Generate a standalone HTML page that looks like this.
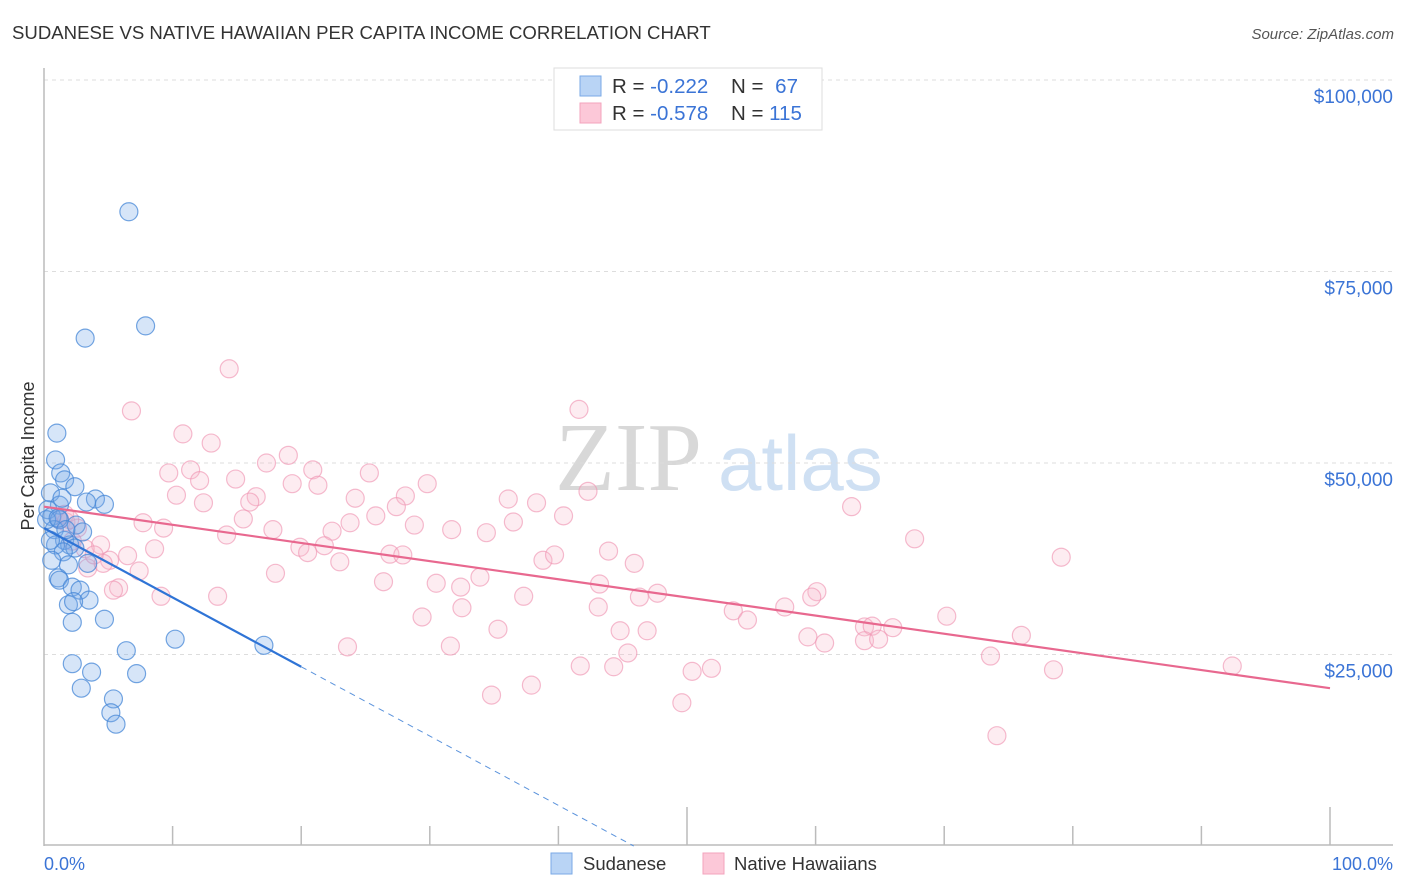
<!DOCTYPE html>
<html><head><meta charset="utf-8"><style>
body{margin:0;background:#fff;font-family:"Liberation Sans",sans-serif;}
svg{display:block}
</style></head><body>
<svg width="1406" height="892" xmlns="http://www.w3.org/2000/svg">
<text x="12" y="39" font-size="18.6" fill="#333">SUDANESE VS NATIVE HAWAIIAN PER CAPITA INCOME CORRELATION CHART</text>
<text x="1394" y="39" font-size="15" fill="#555" font-style="italic" text-anchor="end">Source: ZipAtlas.com</text>
<text x="555" y="490" font-size="98" fill="#d8d8d8" font-family="Liberation Serif">ZIP</text>
<text x="718" y="490" font-size="78" fill="#cfe0f3">atlas</text>
<g id="grid"></g>
<g id="axes"></g>
<text x="34" y="456" font-size="18" fill="#333" text-anchor="middle" transform="rotate(-90 34 456)">Per Capita Income</text>
<text x="44" y="870" font-size="18" fill="#3b74d6">0.0%</text>
<text x="1393" y="870" font-size="18" fill="#3b74d6" text-anchor="end">100.0%</text>
<g id="pink"></g>
<g id="blue"></g>
<g id="lines"></g>
<g>
<rect x="554" y="68" width="268" height="62" fill="#fff" stroke="#ddd"/>
<rect x="580" y="76" width="21" height="20" fill="#b9d4f5" stroke="#7aa9e6"/>
<rect x="580" y="103" width="21" height="20" fill="#fcc8d8" stroke="#f3a3bd"/>
<text x="612" y="93" font-size="20.5" fill="#333">R = <tspan fill="#3b74d6">-0.222</tspan></text>
<text x="731" y="93" font-size="20.5" fill="#333">N = <tspan fill="#3b74d6" dx="6">67</tspan></text>
<text x="612" y="120" font-size="20.5" fill="#333">R = <tspan fill="#3b74d6">-0.578</tspan></text>
<text x="731" y="120" font-size="20.5" fill="#333">N = <tspan fill="#3b74d6">115</tspan></text>
</g>
<g>
<rect x="551" y="853" width="21" height="21" fill="#b9d4f5" stroke="#7aa9e6"/>
<text x="583" y="870" font-size="18.5" fill="#333">Sudanese</text>
<rect x="703" y="853" width="21" height="21" fill="#fcc8d8" stroke="#f3a3bd"/>
<text x="734" y="870" font-size="18.5" fill="#333">Native Hawaiians</text>
</g>
</svg>
<script>
const yTicks=[25000,50000,75000,100000];
const yTickLabels=["$25,000","$50,000","$75,000","$100,000"];
const xTicks=[0,10,20,30,40,50,60,70,80,90,100];
const blueX=[6.6,7.9,3.2,1.0,0.9,1.3,1.6,2.4,0.5,4.0,4.7,3.3,1.2,0.3,0.6,1.2,2.5,3.0,0.8,1.6,2.0,2.4,0.9,1.5,0.6,1.9,3.4,1.1,1.2,2.2,2.8,3.5,1.9,2.3,4.7,2.2,10.2,17.1,6.4,2.2,3.7,7.2,2.9,5.4,5.2,5.6,0.2,0.5,1.1,1.7,1.4];
const blueY=[82.8,67.9,66.3,53.9,50.4,48.7,47.8,46.9,46.1,45.3,44.6,44.9,44.5,43.9,43.0,42.6,41.9,41.0,41.3,39.9,39.3,38.9,39.3,38.4,37.3,36.7,36.9,35.0,34.7,33.8,33.4,32.1,31.5,31.9,29.6,29.2,27.0,26.2,25.5,23.8,22.7,22.5,20.6,19.2,17.4,15.9,42.6,39.9,42.8,41.3,45.4];
const pinkX=[14.4,6.8,41.6,10.8,13.0,9.7,11.4,17.3,19.0,14.9,20.9,25.3,12.1,10.3,12.4,16.5,16.0,19.3,21.3,28.1,29.8,24.2,36.1,38.3,42.3,62.8,7.7,9.3,15.5,23.8,25.8,27.4,28.8,31.7,34.4,36.5,40.4,14.2,17.8,22.4,19.9,21.8,20.5,26.9,27.9,38.8,39.7,43.9,45.9,67.7,79.1,8.6,6.5,5.1,7.4,4.4,3.4,18.0,23.0,26.4,30.5,32.4,33.9,43.2,46.3,47.7,37.3,32.5,43.1,53.6,57.6,54.7,60.1,59.7,29.4,44.8,46.9,35.3,59.4,60.7,63.8,64.4,66.0,63.8,64.9,70.2,76.0,9.1,13.5,23.6,31.6,45.4,41.7,44.3,50.4,51.9,73.6,78.5,92.4,34.8,37.9,49.6,74.1,5.8,5.4,4.6,3.2,2.2,1.2,1.7,2.6,1.6,2.0,3.9];
const pinkY=[62.3,56.8,57.0,53.8,52.6,48.7,49.1,50.0,51.0,47.9,49.1,48.7,47.7,45.8,44.8,45.6,44.9,47.3,47.1,45.7,47.3,45.4,45.3,44.8,46.3,44.3,42.2,41.5,42.7,42.2,43.1,44.3,41.9,41.3,40.9,42.3,43.1,40.6,41.3,41.1,39.0,39.2,38.3,38.1,38.0,37.3,38.0,38.5,36.9,40.1,37.7,38.8,37.9,37.3,35.9,39.3,36.3,35.6,37.1,34.5,34.3,33.8,35.1,34.2,32.5,33.0,32.6,31.1,31.2,30.7,31.2,29.5,33.2,32.5,29.9,28.1,28.1,28.3,27.3,26.5,28.6,28.7,28.5,26.8,27.0,30.0,27.5,32.6,32.6,26.0,26.1,25.2,23.5,23.4,22.8,23.2,24.8,23.0,23.5,19.7,21.0,18.7,14.4,33.7,33.4,36.9,38.8,39.8,42.6,42.3,41.5,43.3,42.6,38.0];
const blueTrend=[41.5,23.4];
const pinkTrend=[44.3,20.6];
const NS="http://www.w3.org/2000/svg";
const X0=44,X1=1330,Y0=846,YK=80;
function sx(p){return X0+(X1-X0)*p/100;}
function sy(v){return Y0-(Y0-YK)*v/100000;}
function mk(tag,attrs,parent){const e=document.createElementNS(NS,tag);for(const k in attrs)e.setAttribute(k,attrs[k]);parent.appendChild(e);return e;}
const grid=document.getElementById('grid'),axes=document.getElementById('axes');
yTicks.forEach((t,i)=>{
  const l=mk('line',{x1:44,x2:1393,y1:sy(t),y2:sy(t),stroke:'#ddd','stroke-dasharray':'4,4'},grid);
  
  
  const tx=mk('text',{x:1393,y:sy(t)+23,'font-size':19,fill:'#3b74d6','text-anchor':'end'},grid);
  tx.textContent=yTickLabels[i];
  
  
});
const ya=mk('line',{x1:44,x2:44,y1:68,y2:846,stroke:'#bbb','stroke-width':1.5},axes);


const xa=mk('line',{x1:44,x2:1393,y1:845,y2:845,stroke:'#bbb','stroke-width':1.5},axes);


xTicks.forEach((t,i)=>{
  if(t===0)return;
  const major=(t%50===0);
  const tk=mk('line',{x1:sx(t),x2:sx(t),y1:major?807:826,y2:845,stroke:'#bbb','stroke-width':1.5},axes);
  
  
});
function dots(xs,ys,g,fill,stroke,name){
  xs.forEach((x,i)=>{
    const c=mk('circle',{cx:sx(x),cy:sy(ys[i]*1000),r:9,fill:fill,stroke:stroke,'stroke-width':1.2},g);
    
    
  });
}
dots(pinkX,pinkY,document.getElementById('pink'),'rgba(248,185,205,0.28)','rgba(240,150,180,0.65)','hawaiian-point');
dots(blueX,blueY,document.getElementById('blue'),'rgba(120,170,232,0.3)','rgba(70,135,215,0.75)','sudanese-point');
const lines=document.getElementById('lines');
const pl=mk('line',{x1:sx(0),y1:sy(pinkTrend[0]*1000),x2:sx(100),y2:sy(pinkTrend[1]*1000),stroke:'#e8688f','stroke-width':2.2},lines);


const slope=(blueTrend[1]-blueTrend[0])/20;
const bl=mk('line',{x1:sx(0),y1:sy(blueTrend[0]*1000),x2:sx(20),y2:sy(blueTrend[1]*1000),stroke:'#2f74d6','stroke-width':2.2},lines);


const xEnd=-blueTrend[0]/slope;
const bd=mk('line',{x1:sx(20),y1:sy(blueTrend[1]*1000),x2:sx(xEnd),y2:sy(0),stroke:'#5b93dc','stroke-width':1,'stroke-dasharray':'6,5'},lines);


</script>
</body></html>
